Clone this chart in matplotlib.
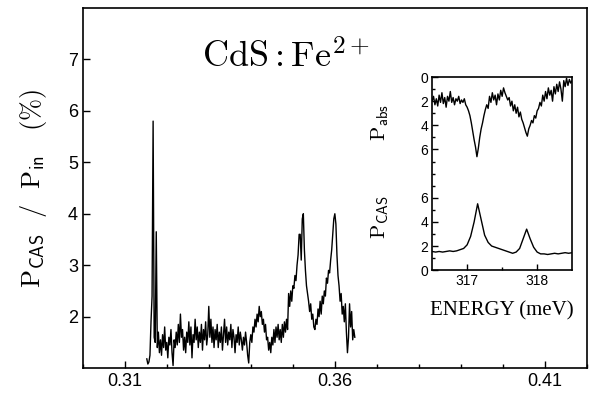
import numpy as np
import matplotlib
matplotlib.use("Agg")
import matplotlib.pyplot as plt
from matplotlib.ticker import MultipleLocator, FixedLocator

plt.rcParams['font.family'] = ['Liberation Sans', 'DejaVu Sans']
plt.rcParams['mathtext.fontset'] = 'cm'

# ---- main spectrum: P_CAS / P_in (%) vs energy (eV) ----
main_start = 0.3152
main_step = 0.00025
main_vals = [
    1.18, 1.08, 1.12, 1.25, 1.9, 2.4, 5.8, 1.6, 1.5, 3.65,
    1.4, 1.7, 1.3, 1.55, 1.25, 1.65, 1.4, 1.8, 1.35, 1.5,
    1.2, 1.6, 1.45, 1.75, 1.3, 1.05, 1.55, 1.4, 1.7, 1.45,
    1.85, 1.5, 2.05, 1.6, 1.75, 1.35, 1.6, 1.3, 1.7, 1.5,
    1.9, 1.45, 1.8, 1.2, 1.65, 1.5, 1.95, 1.55, 1.8, 1.4,
    1.7, 1.5, 1.85, 1.35, 1.75, 1.55, 1.9, 1.45, 1.65, 2.2,
    1.6, 1.95, 1.5, 1.8, 1.4, 1.75, 1.55, 1.85, 1.4, 1.7,
    1.5, 1.8, 1.35, 1.65, 1.95, 1.5, 1.8, 1.45, 1.7, 1.55,
    1.85, 1.4, 1.75, 1.6, 1.3, 1.65, 1.5, 1.8, 1.45, 1.7,
    1.55, 1.35, 1.6, 1.45, 1.7, 1.5, 1.25, 1.1, 1.5, 1.65,
    1.5, 1.8, 1.7, 1.95, 1.8, 2.05, 1.9, 2.2, 2.0, 2.1,
    1.85, 1.95, 1.7, 1.85, 1.55, 1.6, 1.35, 1.5, 1.3, 1.6,
    1.45, 1.75, 1.5, 1.8, 1.6, 1.85, 1.55, 1.75, 1.5, 1.85,
    1.6, 1.9, 1.7, 1.95, 1.75, 2.45, 2.2, 2.5, 2.3, 2.6,
    2.55, 2.8, 2.7, 3.0, 3.2, 3.6, 3.6, 3.1, 3.9, 4.0,
    3.3, 2.9, 2.6, 2.45, 2.3, 2.1, 2.25, 1.95, 2.05, 1.8,
    1.75, 1.95, 1.85, 2.15, 2.0, 2.3, 2.05, 2.4, 2.25, 2.5,
    2.4, 2.75, 2.65, 2.9, 2.85, 3.1, 3.3, 3.6, 3.9, 4.0,
    3.8, 3.2, 2.8, 2.6, 2.3, 2.45, 2.05, 2.2, 1.9, 2.25,
    1.7, 1.3, 1.6, 2.25, 1.8, 2.1, 1.55, 1.75, 1.6,
]
main_x = main_start + main_step * np.arange(len(main_vals))

# ---- inset: absorption (plotted downward from the top) ----
abs_start = 316.5
abs_step = 0.02
abs_vals = [
    2.0, 1.6, 2.3, 1.8, 2.4, 1.5, 2.1, 1.3, 2.2, 1.7,
    2.5, 1.6, 2.0, 1.2, 2.1, 1.7, 2.3, 1.8, 2.0, 1.6,
    2.2, 1.9, 2.1, 1.8, 2.3, 2.5, 2.8, 3.2, 3.8, 4.5,
    5.2, 5.8, 6.6, 5.9, 5.0, 4.3, 3.8, 3.2, 2.7, 2.3,
    2.6, 1.6, 2.1, 1.3, 1.9, 1.5, 2.3, 1.4, 1.9, 1.1,
    1.6, 0.9, 1.3, 1.6, 1.9, 1.7, 2.4, 2.0, 2.8, 2.3,
    3.0, 2.5, 3.3, 2.9, 3.5, 3.8, 4.2, 4.6, 4.9, 4.3,
    4.0, 3.6, 3.8, 3.2, 3.4, 2.8, 2.6, 2.1, 2.4, 1.5,
    2.0, 1.2, 1.8, 0.9, 1.5, 1.1, 2.0, 0.8, 1.4, 0.6,
    1.2, 0.4, 1.0, 2.0, 0.3, 0.8, 0.1, 0.7, 0.2, 0.5,
    0.3,
]
abs_x = abs_start + abs_step * np.arange(len(abs_vals))
abs_top = 16  # absorption scale is inverted, 0 at the top of the inset

# ---- inset: CAS signal ----
cas_start = 316.5
cas_step = 0.05
cas_vals = [
    1.55, 1.5, 1.55, 1.5, 1.55, 1.6, 1.55, 1.6, 1.7, 1.8,
    2.1, 2.8, 4.0, 5.5, 4.2, 2.9, 2.3, 2.0, 1.9, 1.8,
    1.7, 1.6, 1.5, 1.4, 1.5, 1.8, 2.6, 3.4, 2.6, 1.9,
    1.5, 1.35, 1.35, 1.3, 1.35, 1.4, 1.35, 1.4, 1.45, 1.4,
    1.45,
]
cas_x = cas_start + cas_step * np.arange(len(cas_vals))

fig = plt.figure(figsize=(6.01, 3.95), dpi=100)

ax = fig.add_axes([0.138, 0.068, 0.839, 0.912])
ax.plot(main_x, main_vals, color='black', lw=1.0)
ax.set_xlim(0.30, 0.42)
ax.set_ylim(1.0, 8.0)
ax.xaxis.set_major_locator(FixedLocator([0.31, 0.36, 0.41]))
ax.xaxis.set_minor_locator(MultipleLocator(0.01))
ax.yaxis.set_major_locator(FixedLocator([2, 3, 4, 5, 6, 7]))
ax.set_xticklabels(['0.31', '0.36', '0.41'])
ax.tick_params(axis='both', which='major', direction='in', length=5, width=1,
               labelsize=13, top=False, right=False)
ax.tick_params(axis='x', which='minor', direction='in', length=3, width=1, top=False)
ax.tick_params(axis='y', which='minor', left=False)
for s in ax.spines.values():
    s.set_linewidth(1.2)

ax.set_ylabel(r'$\mathrm{P}_{\mathsf{CAS}}\ \ /\ \ \mathrm{P}_{\mathsf{in}}\ \ \ (\%)$',
              fontsize=19, labelpad=14)

fig.text(202 / 601, 1 - 68 / 395, r'$\mathrm{CdS{:}Fe}^{\mathsf{2+}}$', fontsize=26,
         ha='left', va='baseline')

# inset
axi = fig.add_axes([0.719, 0.316, 0.233, 0.489])
axi.plot(abs_x, abs_top - np.array(abs_vals), color='black', lw=1.0)
axi.plot(cas_x, cas_vals, color='black', lw=1.0)
axi.set_xlim(316.5, 318.5)
axi.set_ylim(0, 16)
axi.xaxis.set_major_locator(FixedLocator([317, 318]))
axi.xaxis.set_minor_locator(FixedLocator([317.5]))
axi.yaxis.set_major_locator(FixedLocator([0, 2, 4, 6, 10, 12, 14, 16]))
axi.yaxis.set_minor_locator(MultipleLocator(1))
axi.set_yticklabels(['0', '2', '4', '6', '6', '4', '2', '0'])
axi.set_xticklabels(['317', '318'])
axi.tick_params(axis='both', which='major', direction='in', length=4, width=1,
                labelsize=10, pad=3)
axi.tick_params(axis='both', which='minor', direction='in', length=2, width=1)
for s in axi.spines.values():
    s.set_linewidth(1.2)
axi.set_xlabel('ENERGY (meV)', fontsize=15, family='Liberation Serif', labelpad=9)

fig.text(380 / 601, 1 - 123 / 395, r'$\mathrm{P}_{\mathsf{abs}}$', fontsize=15,
         rotation=90, ha='center', va='center')
fig.text(380 / 601, 1 - 217 / 395, r'$\mathrm{P}_{\mathsf{CAS}}$', fontsize=15,
         rotation=90, ha='center', va='center')

fig.savefig('out.png', dpi=100)
